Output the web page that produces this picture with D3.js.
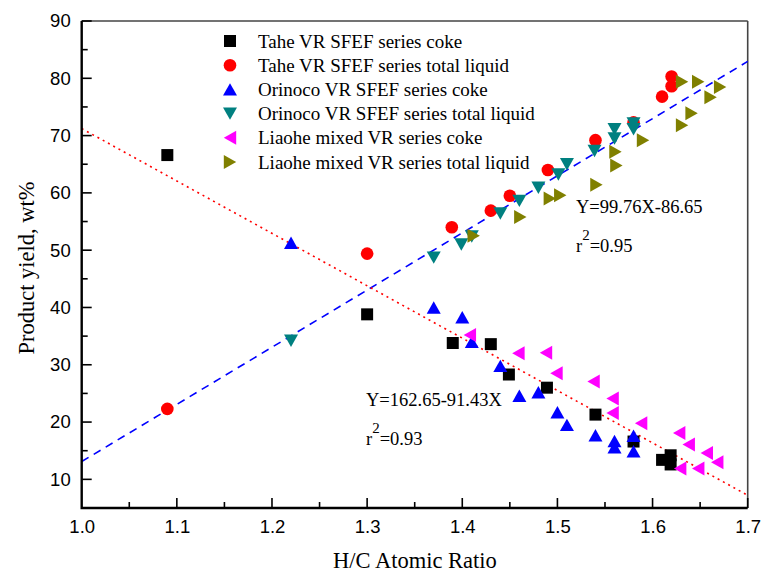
<!DOCTYPE html>
<html>
<head>
<meta charset="utf-8">
<script src="https://cdn.jsdelivr.net/npm/d3@7"></script>
<style>
  html, body { margin: 0; padding: 0; background: #fff; }
  svg { display: block; }
</style>
</head>
<body>
<svg id="chart" width="763" height="574"></svg>
<script>
// H/C atomic ratio vs product yield (wt%)
const taheCoke = [[1.090,66.6],[1.300,38.8],[1.390,33.8],[1.430,33.6],[1.449,28.3],[1.489,26.0],[1.540,21.3],[1.580,16.6],[1.610,13.4],[1.619,14.2],[1.619,12.6]];
const taheLiquid = [[1.090,22.3],[1.300,49.4],[1.389,54.0],[1.430,56.9],[1.450,59.5],[1.490,64.0],[1.540,69.2],[1.580,72.3],[1.610,76.8],[1.620,78.6],[1.620,80.3]];
const orinocoCoke = [[1.220,51.3],[1.370,40.0],[1.400,38.3],[1.410,34.0],[1.440,29.8],[1.460,24.6],[1.480,25.2],[1.500,21.7],[1.510,19.5],[1.540,17.7],[1.560,16.7],[1.560,15.6],[1.580,17.6],[1.580,14.9]];
const orinocoLiquid = [[1.220,34.2],[1.370,48.7],[1.399,51.0],[1.410,52.4],[1.440,56.4],[1.460,58.6],[1.480,60.9],[1.501,63.2],[1.510,65.0],[1.539,67.3],[1.560,71.1],[1.560,69.5],[1.580,72.1],[1.580,71.1]];
const liaoheCoke = [[1.408,35.2],[1.459,32.0],[1.488,32.1],[1.499,28.5],[1.538,27.1],[1.558,24.1],[1.558,21.6],[1.588,19.8],[1.628,18.1],[1.638,16.1],[1.657,14.6],[1.668,13.0],[1.629,11.9],[1.648,11.9]];
const liaoheLiquid = [[1.412,52.5],[1.461,55.8],[1.492,59.0],[1.503,59.6],[1.541,61.4],[1.561,67.2],[1.562,64.8],[1.590,69.2],[1.631,71.8],[1.641,73.9],[1.631,79.4],[1.648,79.4],[1.661,76.7],[1.671,78.5]];

const seriesNames = ["Tahe VR SFEF series coke","Tahe VR SFEF series total liquid","Orinoco VR SFEF series coke","Orinoco VR SFEF series total liquid","Liaohe mixed VR series coke","Liaohe mixed VR series total liquid"];
const seriesData = [taheCoke, taheLiquid, orinocoCoke, orinocoLiquid, liaoheCoke, liaoheLiquid];
const seriesColors = ["#000000","#ff0000","#0000ff","#008080","#ff00ff","#808000"];
const seriesShapes = ["square","circle","up","down","left","right"];

// linear fits: liquid = a*X + b, coke = c + d*X
const liquidFit = {slope: 99.76, intercept: -86.65};
const cokeFit = {slope: -91.43, intercept: 162.65};

const xTicks = [1.0,1.1,1.2,1.3,1.4,1.5,1.6,1.7];
const yTicks = [10,20,30,40,50,60,70,80,90];

const svg = d3.select("#chart");
const L = 81.7, R = 747.7, T = 21, B = 508;
const x = d3.scaleLinear().domain([1.0, 1.7]).range([L, R]);
const y = d3.scaleLinear().domain([5, 90]).range([B, T]);

// frame top/right
svg.append("line").attr("x1", L).attr("x2", R).attr("y1", T).attr("y2", T)
  .attr("stroke", "#444").attr("stroke-width", 1.6);
svg.append("line").attr("x1", R).attr("x2", R).attr("y1", T).attr("y2", B)
  .attr("stroke", "#444").attr("stroke-width", 1.6);

// fit lines
const xs = [1.0, 1.7];
const lineGen = d3.line().x(d => x(d[0])).y(d => y(d[1]));
svg.append("path")
  .attr("d", lineGen(xs.map(v => [v, liquidFit.slope * v + liquidFit.intercept])))
  .attr("fill", "none").attr("stroke", "#0000ff").attr("stroke-width", 1.6)
  .attr("stroke-dasharray", "8,6");
svg.append("path")
  .attr("d", lineGen(xs.map(v => [v, cokeFit.slope * v + cokeFit.intercept])))
  .attr("fill", "none").attr("stroke", "#ff0000").attr("stroke-width", 1.6)
  .attr("stroke-dasharray", "2,4");

// marker shapes
function markerPath(shape) {
  const s = 6, w = 7, h = 6.2;
  switch (shape) {
    case "square": return `M${-s},${-s}H${s}V${s}H${-s}Z`;
    case "circle": return d3.symbol(d3.symbolCircle, 125)();
    case "up": return `M0,${-h}L${w},${h}L${-w},${h}Z`;
    case "down": return `M0,${h}L${w},${-h}L${-w},${-h}Z`;
    case "left": return `M${-h},0L${h},${-w}L${h},${w}Z`;
    case "right": return `M${h},0L${-h},${-w}L${-h},${w}Z`;
  }
}

seriesData.forEach((data, i) => {
  svg.append("g").selectAll("path").data(data).join("path")
    .attr("d", markerPath(seriesShapes[i]))
    .attr("transform", d => `translate(${x(d[0])},${y(d[1])})`)
    .attr("fill", seriesColors[i]);
});

// axes
const xAxis = d3.axisBottom(x).tickValues(xTicks).tickFormat(d3.format(".1f")).tickSize(0).tickPadding(12);
const gx = svg.append("g").attr("transform", `translate(0,${B})`).call(xAxis);
const yAxis = d3.axisLeft(y).tickValues(yTicks).tickFormat(d3.format("d")).tickSize(0).tickPadding(11);
const gy = svg.append("g").attr("transform", `translate(${L},0)`).call(yAxis);
[gx, gy].forEach(g => {
  g.select(".domain").remove();
  g.selectAll("text").attr("font-family", "Liberation Sans, Arial, sans-serif")
    .attr("font-size", 18.5).attr("fill", "#000");
});

// inward ticks
const xMinor = d3.range(1.05, 1.7, 0.1);
const yMinor = d3.range(15, 90, 10);
svg.append("g").selectAll("line").data(xTicks.slice(1, -1)).join("line")
  .attr("x1", d => x(d)).attr("x2", d => x(d)).attr("y1", B).attr("y2", B - 10)
  .attr("stroke", "#000").attr("stroke-width", 1.6);
svg.append("g").selectAll("line").data(xMinor).join("line")
  .attr("x1", d => x(d)).attr("x2", d => x(d)).attr("y1", B).attr("y2", B - 6)
  .attr("stroke", "#000").attr("stroke-width", 1.6);
svg.append("g").selectAll("line").data(yTicks).join("line")
  .attr("x1", L).attr("x2", L + 10).attr("y1", d => y(d)).attr("y2", d => y(d))
  .attr("stroke", "#000").attr("stroke-width", 1.6);
svg.append("g").selectAll("line").data(yMinor).join("line")
  .attr("x1", L).attr("x2", L + 6).attr("y1", d => y(d)).attr("y2", d => y(d))
  .attr("stroke", "#000").attr("stroke-width", 1.6);

// left/bottom axis lines
svg.append("path").attr("d", `M${L},${T}V${B}H${R}`)
  .attr("fill", "none").attr("stroke", "#000").attr("stroke-width", 2.4);
svg.append("line").attr("x1", R).attr("x2", R).attr("y1", B).attr("y2", B - 10)
  .attr("stroke", "#000").attr("stroke-width", 1.6);

const serif = "Liberation Serif, Times New Roman, serif";

// axis titles
svg.append("text").attr("x", 415).attr("y", 568).attr("text-anchor", "middle")
  .attr("font-family", serif).attr("font-size", 22.5).text("H/C Atomic Ratio");
svg.append("text").attr("transform", `translate(34,268) rotate(-90)`)
  .attr("text-anchor", "middle").attr("font-family", serif).attr("font-size", 22.5)
  .text("Product yield, wt%");

// legend
const legend = svg.append("g");
seriesNames.forEach((name, i) => {
  const ly = 41 + i * 24.2;
  legend.append("path").attr("d", markerPath(seriesShapes[i]))
    .attr("transform", `translate(230,${ly})`).attr("fill", seriesColors[i]);
  legend.append("text").attr("x", 258).attr("y", ly).attr("dy", "0.35em")
    .attr("font-family", serif).attr("font-size", 19).text(name);
});

// fit equations
function equation(xp, yp, eq, r2) {
  svg.append("text").attr("x", xp).attr("y", yp).attr("font-family", serif)
    .attr("font-size", 18.5).text(eq);
  const t = svg.append("text").attr("x", xp).attr("y", yp + 39).attr("font-family", serif)
    .attr("font-size", 18.5);
  t.append("tspan").text("r");
  t.append("tspan").attr("dy", -12).attr("font-size", 15).text("2");
  t.append("tspan").attr("dy", 12).text("=" + r2);
}
equation(576, 213, `Y=${liquidFit.slope}X${liquidFit.intercept}`, "0.95");
equation(366, 406, `Y=${cokeFit.intercept}${cokeFit.slope}X`, "0.93");
</script>
</body>
</html>
